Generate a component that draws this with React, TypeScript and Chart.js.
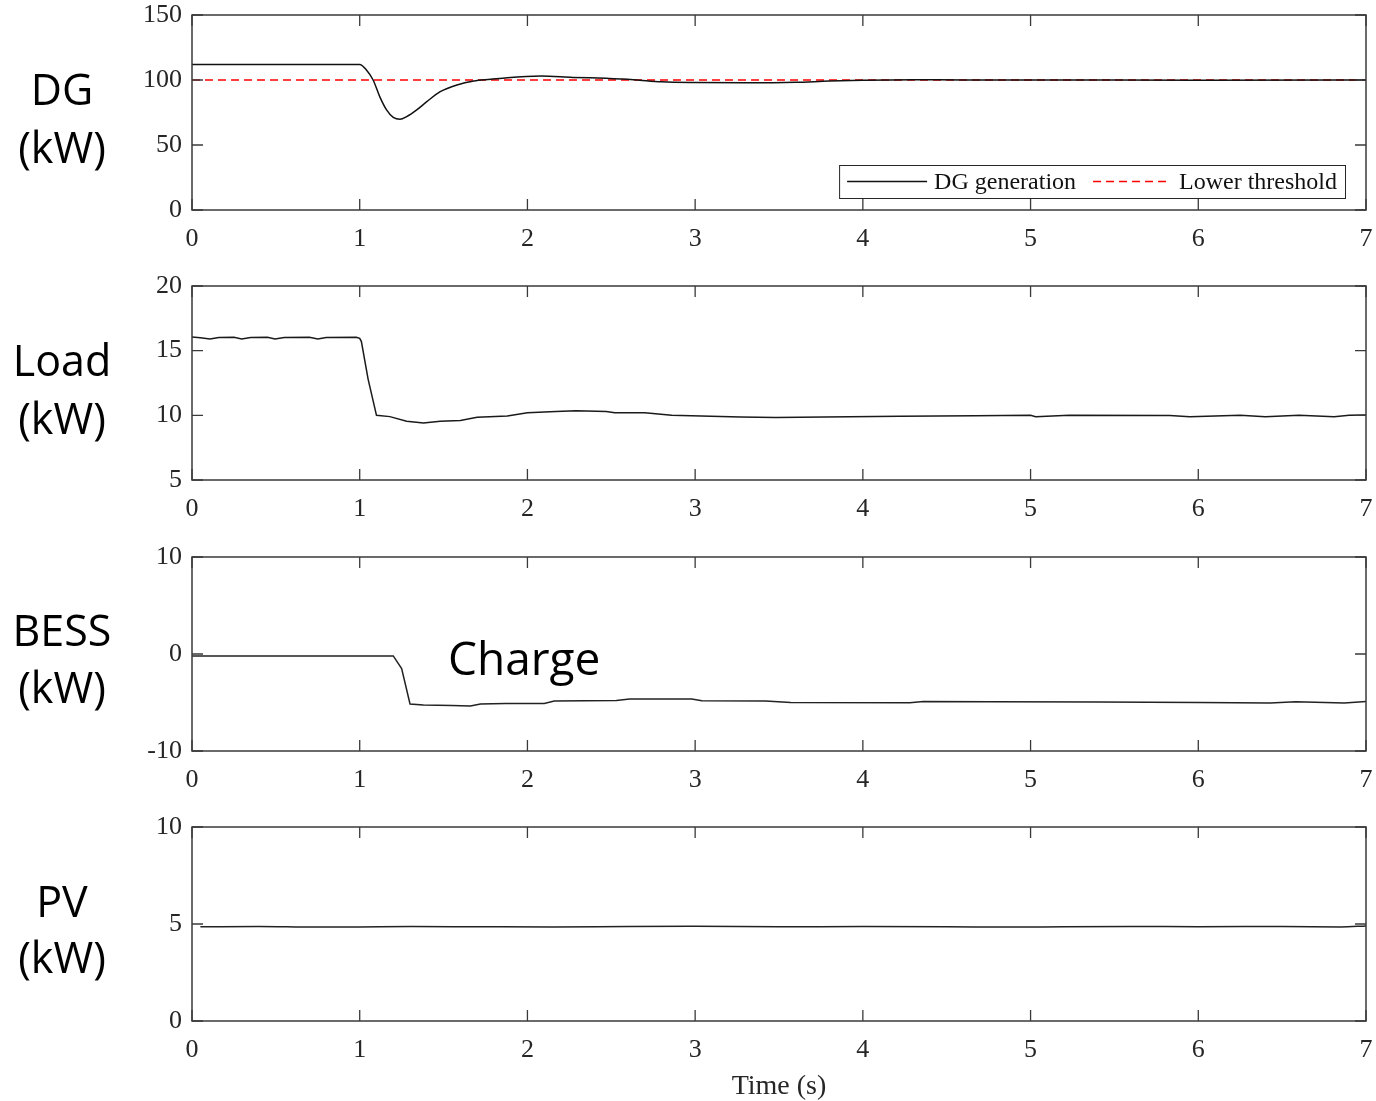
import React, { useEffect, useRef } from "react";
import { Chart, registerables } from "chart.js";

Chart.register(...registerables);

// ---------- data ----------
const xTicks = [0, 1, 2, 3, 4, 5, 6, 7];

const dgTime = [0, 1.0, 1.04, 1.08, 1.12, 1.16, 1.2, 1.24, 1.28, 1.34, 1.4, 1.48, 1.58, 1.68, 1.78, 1.88, 2.08, 2.27, 2.47, 2.57, 2.67, 2.8, 3.0, 3.3, 3.6, 3.8, 4.0, 4.3, 4.6, 5.0, 6.0, 7.0];
const dgPower = [112, 112, 107.7, 100, 87, 77, 71.3, 69.8, 71.8, 77, 83.3, 91, 96.2, 99.2, 100.5, 101.8, 103, 102, 101.3, 100.8, 99.8, 98.6, 98, 97.8, 98.2, 99.2, 99.8, 100.2, 100, 100, 99.9, 100];

const thresholdTime = [0, 7];
const thresholdPower = [100, 100];

const loadTime = [0, 0.05, 0.107, 0.16, 0.25, 0.296, 0.35, 0.45, 0.495, 0.55, 0.7, 0.75, 0.8, 0.98, 1.0, 1.01, 1.05, 1.1, 1.18, 1.28, 1.38, 1.48, 1.6, 1.7, 1.88, 2.0, 2.17, 2.29, 2.47, 2.52, 2.7, 2.86, 3.27, 3.48, 3.77, 4.22, 4.67, 5.0, 5.03, 5.23, 5.83, 5.95, 6.25, 6.4, 6.6, 6.81, 6.9, 7.0];
const loadPower = [16.05, 16.0, 15.9, 16.02, 16.03, 15.9, 16.02, 16.03, 15.9, 16.02, 16.03, 15.9, 16.02, 16.03, 15.95, 15.7, 12.8, 10.0, 9.9, 9.55, 9.4, 9.55, 9.6, 9.85, 9.95, 10.2, 10.3, 10.36, 10.3, 10.2, 10.2, 10.0, 9.88, 9.84, 9.88, 9.92, 9.97, 10.0, 9.9, 10.0, 9.99, 9.9, 10.0, 9.9, 10.0, 9.9, 10.0, 10.02];

const bessTime = [0, 1.2, 1.25, 1.3, 1.38, 1.55, 1.66, 1.72, 1.87, 2.1, 2.16, 2.53, 2.61, 2.98, 3.04, 3.42, 3.57, 4.28, 4.36, 4.77, 5.41, 6.0, 6.43, 6.58, 6.87, 7.0];
const bessPower = [-0.2, -0.2, -1.5, -5.15, -5.25, -5.3, -5.36, -5.15, -5.1, -5.1, -4.85, -4.8, -4.65, -4.64, -4.81, -4.84, -5.0, -5.03, -4.9, -4.93, -4.96, -5.0, -5.05, -4.93, -5.05, -4.9];

const pvTime = [0.05, 0.4, 0.73, 1.0, 1.31, 1.7, 2.15, 2.6, 3.0, 3.5, 4.0, 4.5, 4.9, 5.2, 5.6, 6.0, 6.5, 6.85, 7.0];
const pvPower = [4.86, 4.87, 4.84, 4.85, 4.87, 4.86, 4.85, 4.87, 4.88, 4.86, 4.87, 4.86, 4.84, 4.86, 4.87, 4.86, 4.87, 4.85, 4.9];

const dgTicks = [0, 50, 100, 150];
const loadTicks = [5, 10, 15, 20];
const bessTicks = [-10, 0, 10];
const pvTicks = [0, 5, 10];

// ---------- styling ----------
const PAGE_W = 1376;
const PLOT_RIGHT = 1366;
const PAD_TOP = 30;
const PAD_RIGHT = 24;
const CANVAS_W = PLOT_RIGHT + PAD_RIGHT;
const X_AXIS_H = 50;
const Y_AXIS_W = 192;
const TICK_FONT = { family: '"Liberation Serif", "Times New Roman", serif', size: 26 };
const AXIS_COLOR = "#262626";
const SANS = '"Open Sans", "Noto Sans", sans-serif';

const pts = (t: number[], v: number[]) => t.map((x, i) => ({ x, y: v[i] }));

const framePlugin = {
  id: "matlabFrame",
  afterDraw(chart: any) {
    const { ctx, chartArea: a, scales } = chart;
    const xs = scales.x;
    const ys = scales.y;
    const L = 11;
    ctx.save();
    ctx.strokeStyle = "#3a3a3a";
    ctx.lineWidth = 1.3;
    ctx.beginPath();
    xs.ticks.forEach((t: any) => {
      const px = xs.getPixelForValue(t.value);
      ctx.moveTo(px, a.bottom);
      ctx.lineTo(px, a.bottom - L);
      ctx.moveTo(px, a.top);
      ctx.lineTo(px, a.top + L);
    });
    ys.ticks.forEach((t: any) => {
      const py = ys.getPixelForValue(t.value);
      ctx.moveTo(a.left, py);
      ctx.lineTo(a.left + L, py);
      ctx.moveTo(a.right, py);
      ctx.lineTo(a.right - L, py);
    });
    ctx.stroke();
    ctx.lineWidth = 1.5;
    ctx.strokeRect(a.left, a.top, a.right - a.left, a.bottom - a.top);
    ctx.restore();
  },
};

const legendPlugin = {
  id: "boxLegend",
  afterDraw(chart: any) {
    const { ctx, chartArea: a } = chart;
    const ds = chart.data.datasets;
    ctx.save();
    ctx.font = '24px "Liberation Serif", "Times New Roman", serif';
    const w0 = ctx.measureText(ds[0].label).width;
    const w1 = ctx.measureText(ds[1].label).width;
    const pad = 8;
    const s0 = 80;
    const s1 = 76;
    const total = pad + s0 + 7 + w0 + 17 + s1 + 10 + w1 + pad;
    const right = a.right - 21;
    const left = right - total;
    const top = a.bottom - 45;
    const bottom = a.bottom - 12;
    const midY = (top + bottom) / 2;
    ctx.fillStyle = "#ffffff";
    ctx.fillRect(left, top, total, bottom - top);
    ctx.strokeStyle = "#262626";
    ctx.lineWidth = 1;
    ctx.strokeRect(left + 0.5, top + 0.5, total, bottom - top);
    let x = left + pad;
    ctx.strokeStyle = ds[0].borderColor;
    ctx.lineWidth = 1.3;
    ctx.setLineDash([]);
    ctx.beginPath();
    ctx.moveTo(x, midY);
    ctx.lineTo(x + s0, midY);
    ctx.stroke();
    x += s0 + 7;
    ctx.fillStyle = "#111";
    ctx.textBaseline = "middle";
    ctx.fillText(ds[0].label, x, midY + 1);
    x += w0 + 17;
    ctx.strokeStyle = ds[1].borderColor;
    ctx.setLineDash([8, 5]);
    ctx.beginPath();
    ctx.moveTo(x, midY);
    ctx.lineTo(x + s1, midY);
    ctx.stroke();
    ctx.setLineDash([]);
    x += s1 + 10;
    ctx.fillText(ds[1].label, x, midY + 1);
    ctx.restore();
  },
};

type PanelProps = {
  plotTop: number;
  plotBottom: number;
  yTicks: number[];
  datasets: any[];
  legend?: boolean;
};

function Panel({ plotTop, plotBottom, yTicks, datasets, legend }: PanelProps) {
  const ref = useRef<HTMLCanvasElement | null>(null);
  const height = plotBottom - plotTop + PAD_TOP + X_AXIS_H;
  useEffect(() => {
    if (!ref.current) return;
    const yMin = yTicks[0];
    const yMax = yTicks[yTicks.length - 1];
    const chart = new Chart(ref.current, {
      type: "line",
      data: { datasets },
      options: {
        responsive: false,
        animation: false,
        devicePixelRatio: 1,
        layout: { padding: { top: PAD_TOP, right: PAD_RIGHT, left: 0, bottom: 0 } },
        plugins: { legend: { display: false }, tooltip: { enabled: false } },
        elements: { point: { radius: 0 } },
        scales: {
          x: {
            type: "linear",
            min: xTicks[0],
            max: xTicks[xTicks.length - 1],
            afterBuildTicks: (s: any) => {
              s.ticks = xTicks.map((v) => ({ value: v }));
            },
            ticks: { autoSkip: false, maxRotation: 0, padding: 14, font: TICK_FONT, color: AXIS_COLOR },
            grid: { display: false, drawTicks: false },
            border: { display: false },
            afterFit: (s: any) => {
              s.height = X_AXIS_H;
            },
          },
          y: {
            type: "linear",
            min: yMin,
            max: yMax,
            afterBuildTicks: (s: any) => {
              s.ticks = yTicks.map((v) => ({ value: v }));
            },
            ticks: { padding: 10, font: TICK_FONT, color: AXIS_COLOR },
            grid: { display: false, drawTicks: false },
            border: { display: false },
            afterFit: (s: any) => {
              s.width = Y_AXIS_W;
            },
          },
        },
      } as any,
      plugins: legend ? [framePlugin, legendPlugin] : [framePlugin],
    });
    return () => chart.destroy();
  }, []);
  return (
    <canvas
      ref={ref}
      width={CANVAS_W}
      height={height}
      style={{ position: "absolute", left: 0, top: plotTop - PAD_TOP, width: CANVAS_W, height }}
    />
  );
}

function SideLabel({ text, capCenter, size = 43, left = 62 }: { text: string; capCenter: number; size?: number; left?: number }) {
  return (
    <div
      style={{
        position: "absolute",
        left: left - 100,
        width: 200,
        top: capCenter - 0.531 * size,
        height: size,
        lineHeight: `${size}px`,
        fontSize: size,
        fontFamily: SANS,
        textAlign: "center",
        color: "#000",
        whiteSpace: "nowrap",
      }}
    >
      {text}
    </div>
  );
}

const lineStyle = (color: string) => ({
  borderColor: color,
  borderWidth: 1.5,
  pointRadius: 0,
  fill: false,
});

export default function App() {
  const dgSets = [
    { label: "DG generation", data: pts(dgTime, dgPower), ...lineStyle("#111111"), cubicInterpolationMode: "monotone" },
    { label: "Lower threshold", data: pts(thresholdTime, thresholdPower), ...lineStyle("#ff0000"), borderDash: [8, 5] },
  ];
  const loadSets = [{ label: "Load", data: pts(loadTime, loadPower), ...lineStyle("#1a1a1a"), tension: 0 }];
  const bessSets = [{ label: "BESS", data: pts(bessTime, bessPower), ...lineStyle("#222222"), tension: 0 }];
  const pvSets = [{ label: "PV", data: pts(pvTime, pvPower), ...lineStyle("#222222"), cubicInterpolationMode: "monotone" }];

  return (
    <div style={{ position: "absolute", left: 0, top: 0, width: PAGE_W, height: 1101, background: "#fff", overflow: "hidden" }}>
      <Panel plotTop={15} plotBottom={210} yTicks={dgTicks} datasets={dgSets} legend />
      <Panel plotTop={286} plotBottom={480} yTicks={loadTicks} datasets={loadSets} />
      <Panel plotTop={557} plotBottom={751} yTicks={bessTicks} datasets={bessSets} />
      <Panel plotTop={827} plotBottom={1021} yTicks={pvTicks} datasets={pvSets} />

      <SideLabel text="DG" capCenter={90} />
      <SideLabel text="(kW)" capCenter={147.5} />
      <SideLabel text="Load" capCenter={361} />
      <SideLabel text="(kW)" capCenter={418.5} />
      <SideLabel text="BESS" capCenter={631} />
      <SideLabel text="(kW)" capCenter={688} />
      <SideLabel text="PV" capCenter={902} />
      <SideLabel text="(kW)" capCenter={958} />

      <div
        style={{
          position: "absolute",
          left: 448,
          top: 658.5 - 0.531 * 46,
          height: 46,
          lineHeight: "46px",
          fontSize: 46,
          fontFamily: SANS,
          color: "#000",
          whiteSpace: "nowrap",
        }}
      >
        Charge
      </div>

      <div
        style={{
          position: "absolute",
          left: 579,
          width: 400,
          top: 1070,
          height: 30,
          lineHeight: "30px",
          fontSize: 28,
          fontFamily: '"Liberation Serif", "Times New Roman", serif',
          textAlign: "center",
          color: "#262626",
        }}
      >
        Time (s)
      </div>
    </div>
  );
}
